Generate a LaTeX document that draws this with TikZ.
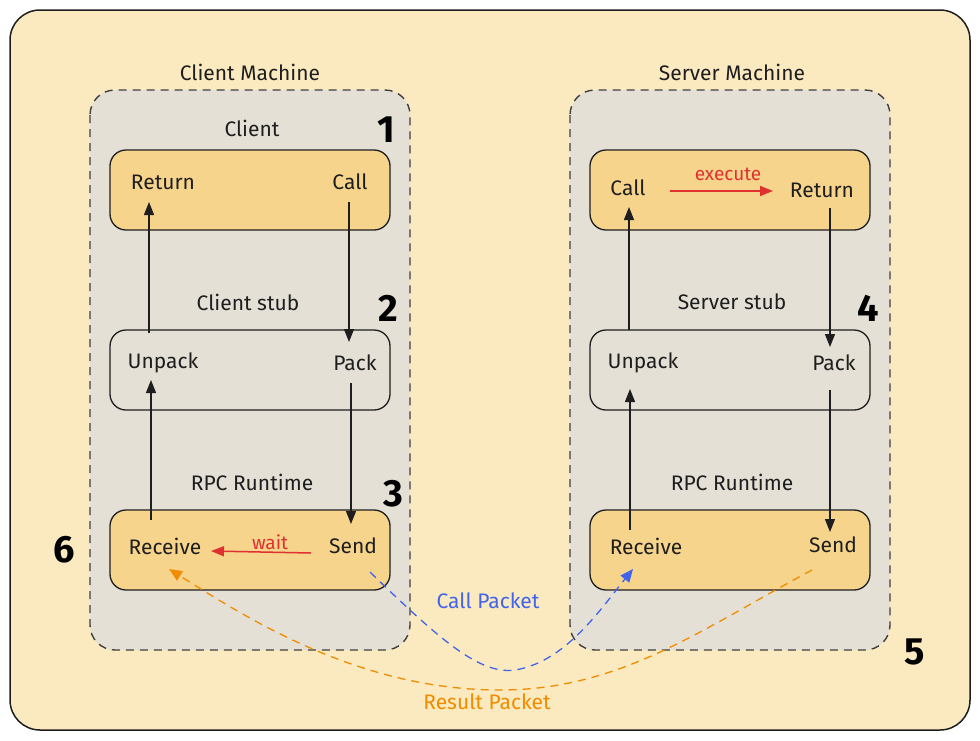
\documentclass[tikz,border=0pt]{standalone}
\usepackage{fontspec}
\setmainfont{Fira Sans}
\usetikzlibrary{arrows.meta}
\definecolor{outerbase}{HTML}{FBEAC0}
\definecolor{graybase}{HTML}{E4E0D6}
\definecolor{orbase}{HTML}{F6D48C}
\definecolor{redc}{HTML}{E03131}
\definecolor{bluec}{HTML}{4263EB}
\definecolor{orangec}{HTML}{F08C00}
\definecolor{inkc}{HTML}{1E1E1E}
\tikzset{
  x=1pt,y=-1pt,
  txt/.style={font=\fontsize{21}{24}\selectfont,text=inkc,inner sep=0pt},
  num/.style={font=\fontsize{38}{42}\selectfont\bfseries,text=black,inner sep=0pt},
  machine/.style={draw=inkc!85,line width=1.4pt,dash pattern=on 8pt off 6pt,rounded corners=25pt,fill=graybase},
  orbox/.style={draw=inkc,line width=1.3pt,rounded corners=16pt,fill=orbase},
  grbox/.style={draw=inkc,line width=1.3pt,rounded corners=16pt,fill=graybase},
  arr/.style={draw=inkc,line width=1.3pt,-{Triangle[length=13pt,width=10pt]}},
  redarr/.style={draw=redc,line width=1.5pt,-{Triangle[length=13pt,width=10pt]}},
  pkt/.style={line width=1.3pt,dash pattern=on 8pt off 6pt,-{Triangle[length=13pt,width=11pt]}},
}
\begin{document}
\begin{tikzpicture}
\useasboundingbox (0,0) rectangle (980,740);
% outer
\path[draw=inkc,line width=1.5pt,rounded corners=30pt,fill=outerbase] (10,10) rectangle (970,730);
% machines
\path[machine] (90,90) rectangle (410,650);
\path[machine] (570,90) rectangle (890,650);
\node[txt] (cm) at (250,72) {Client Machine};
\node[txt] (sm) at (732,72) {Server Machine};
% client boxes
\node[txt] (clbl) at (252,128) {Client};
\path[orbox] (110,150) rectangle (390,230);
\node[txt] (c1ret) at (163,182) {Return};
\node[txt] (c1call) at (350,182) {Call};
\node[txt] (cslbl) at (248,302) {Client stub};
\path[grbox] (110,330) rectangle (390,410);
\node[txt] (c2unp) at (163,363) {Unpack};
\node[txt] (c2pack) at (355,363) {Pack};
\node[txt] (crlbl) at (252,482) {RPC Runtime};
\path[orbox] (110,510) rectangle (390,590);
\node[txt] (c3rec) at (165,546) {Receive};
\node[txt] (c3send) at (353,546) {Send};
% server boxes
\path[orbox] (590,150) rectangle (870,230);
\node[txt] (s1call) at (628,188) {Call};
\node[txt] (s1ret) at (822,190) {Return};
\node[txt] (sslbl) at (732,302) {Server stub};
\path[grbox] (590,330) rectangle (870,410);
\node[txt] (s2unp) at (643,363) {Unpack};
\node[txt] (s2pack) at (834,363) {Pack};
\node[txt] (srlbl) at (732,482) {RPC Runtime};
\path[orbox] (590,510) rectangle (870,590);
\node[txt] (s3rec) at (646,546) {Receive};
\node[txt] (s3send) at (833,545) {Send};
% numbers
\node[num] (n1) at (386,130) {1};
\node[num] (n2) at (388,308) {2};
\node[num] (n3) at (393,494) {3};
\node[num] (n4) at (868,308) {4};
\node[num] (n5) at (915,652) {5};
\node[num] (n6) at (64,550) {6};
% client arrows
\coordinate (a1s) at (349,202); \coordinate (a1e) at (349,342);
\draw[arr] (a1s) -- (a1e);
\coordinate (a2s) at (149,333); \coordinate (a2e) at (149,202);
\draw[arr] (a2s) -- (a2e);
\coordinate (a3s) at (351,383); \coordinate (a3e) at (351,524);
\draw[arr] (a3s) -- (a3e);
\coordinate (a4s) at (151,520); \coordinate (a4e) at (151,380);
\draw[arr] (a4s) -- (a4e);
\coordinate (ws) at (311,553); \coordinate (we) at (211,551);
\draw[redarr] (ws) -- (we);
\node[txt,text=redc,font=\fontsize{19}{22}\selectfont] (wait) at (270,542) {wait};
% server arrows
\coordinate (b1s) at (629,330); \coordinate (b1e) at (629,207);
\draw[arr] (b1s) -- (b1e);
\coordinate (b2s) at (830,208); \coordinate (b2e) at (830,347);
\draw[arr] (b2s) -- (b2e);
\coordinate (b3s) at (630,530); \coordinate (b3e) at (630,389);
\draw[arr] (b3s) -- (b3e);
\coordinate (b4s) at (830,390); \coordinate (b4e) at (830,532);
\draw[arr] (b4s) -- (b4e);
\coordinate (es) at (670,191); \coordinate (ee) at (773,191);
\draw[redarr] (es) -- (ee);
\node[txt,text=redc,font=\fontsize{19}{22}\selectfont] (exec) at (728,174) {execute};
% packets
\coordinate (cps) at (370,572); \coordinate (cpe) at (633,569);
\draw[pkt,draw=bluec] (cps) .. controls (440,640) and (480,675) .. (515,670)
   .. controls (565,662) and (600,610) .. (cpe);
\node[txt,text=bluec] (cpl) at (488,601) {Call Packet};
\coordinate (rps) at (812,570); \coordinate (rpe) at (169,569);
\draw[pkt,draw=orangec] (rps) .. controls (700,630) and (620,690) .. (500,690)
   .. controls (360,690) and (250,620) .. (rpe);
\node[txt,text=orangec] (rpl) at (487,702) {Result Packet};
\end{tikzpicture}
\end{document}
